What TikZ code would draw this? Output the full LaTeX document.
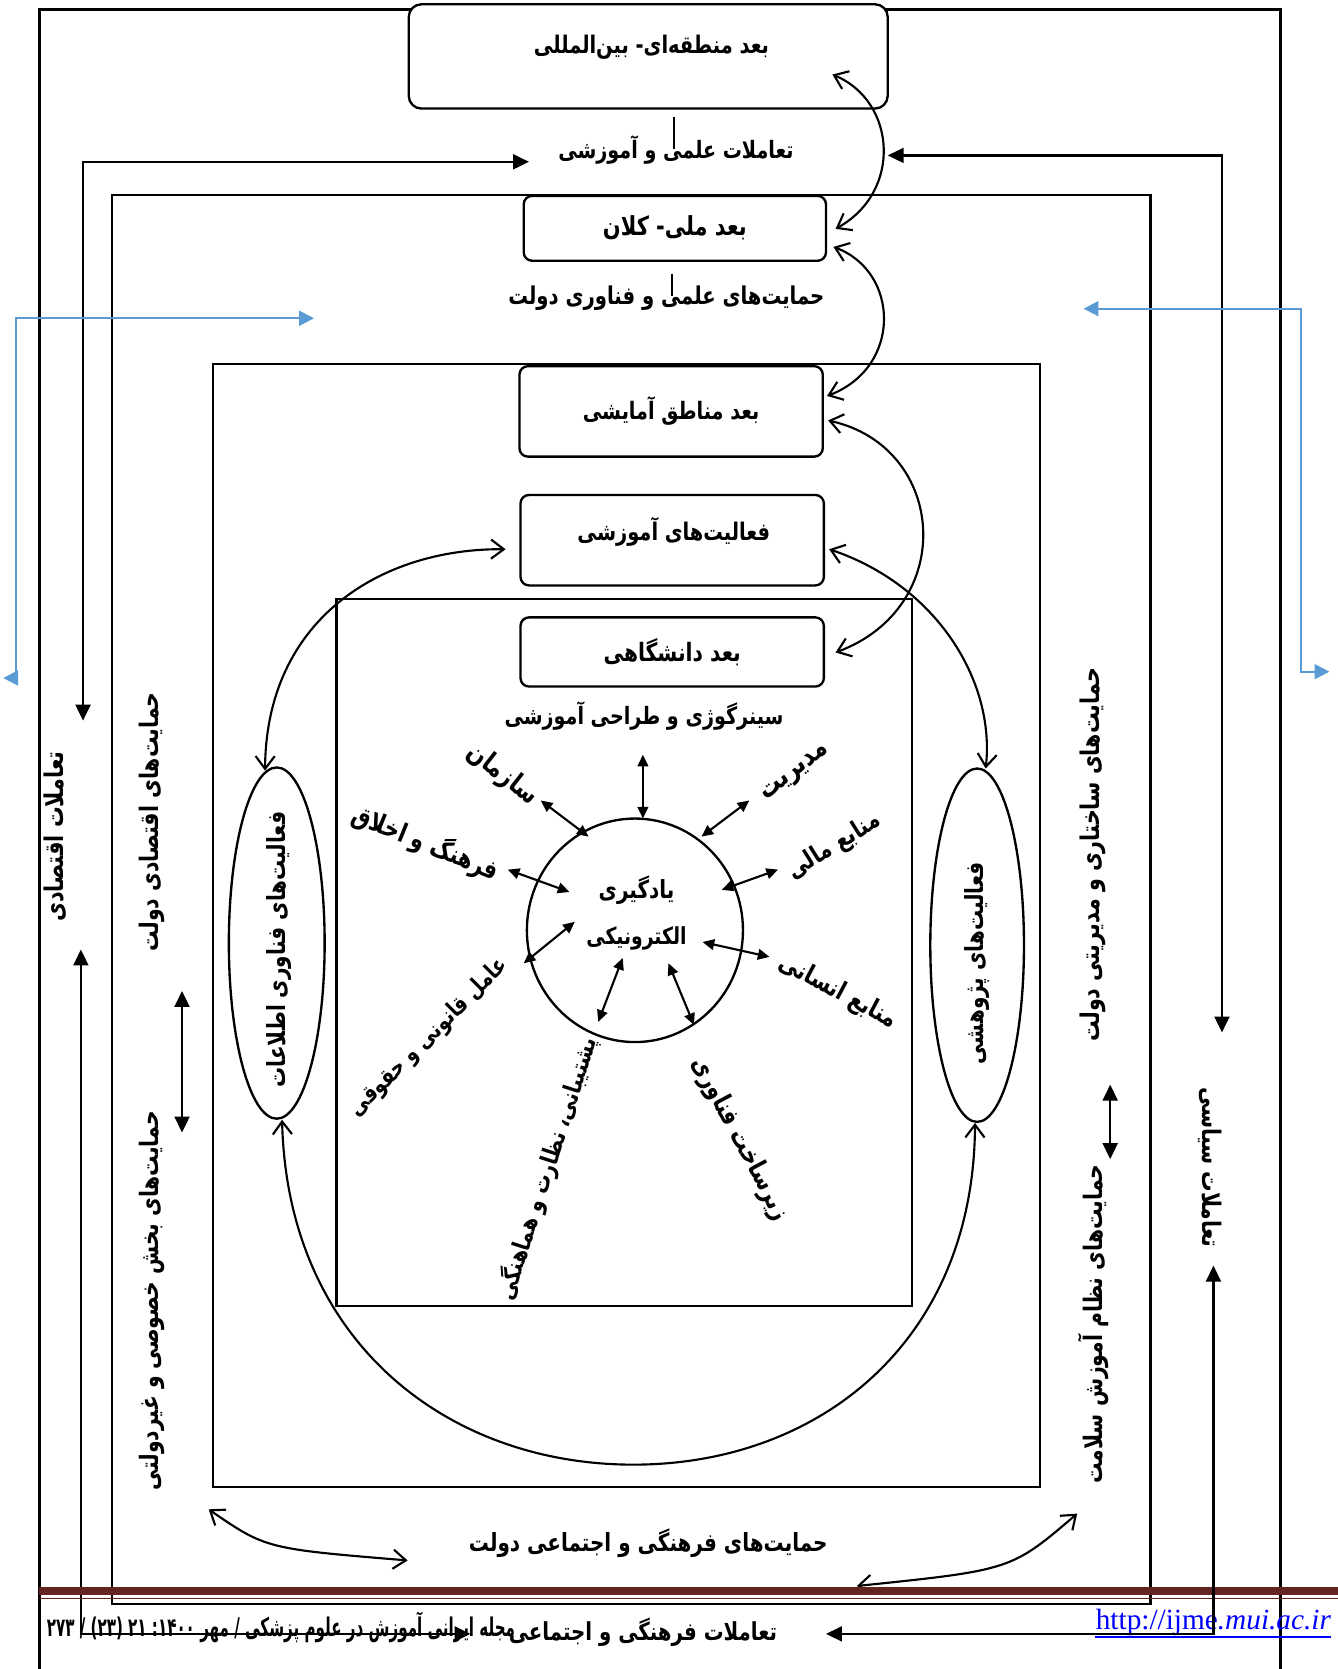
\documentclass[tikz,border=0pt]{standalone}
\usepackage{fontspec}
\usepackage{graphicx}
\usetikzlibrary{arrows.meta,shapes.geometric}
\TeXXeTstate=1
\newfontfamily\arfont[Script=Arabic]{DejaVu Sans}
\newfontfamily\urlfont{Liberation Serif}
\definecolor{footred}{RGB}{100,36,34}
\definecolor{flowblue}{RGB}{91,155,213}
\definecolor{urlblue}{RGB}{0,0,255}
\newdimen\unitpx \unitpx=0.5pt
% Persian label scaled to a given length (in picture units), set a little taller
\newcommand\fa[2]{\scalebox{1}[1.25]{\resizebox{#1\unitpx}{!}{\arfont\bfseries #2}}}
\newcommand\zw{^^^^200c}
\begin{document}
\begin{tikzpicture}[x=0.5pt,y=-0.5pt,
  frame/.style={line width=1.1pt},
  rbox/.style={draw,line width=1.1pt,rounded corners=4pt,fill=white,inner sep=0pt},
  oval/.style={draw,ellipse,line width=1.1pt,inner sep=0pt},
  lbl/.style={inner sep=0pt},
  elbow/.style={line width=1.1pt,{Triangle[length=7.5pt,width=7pt]}-{Triangle[length=7.5pt,width=7pt]}},
  ray/.style={line width=1pt,{Triangle[length=5.5pt,width=5pt]}-{Triangle[length=5.5pt,width=5pt]}},
  link/.style={line width=1pt,{Straight Barb[length=6pt,width=9pt]}-{Straight Barb[length=6pt,width=9pt]}},
  flow/.style={draw=flowblue,line width=1pt,{Triangle[length=7pt,width=7pt]}-{Triangle[length=7pt,width=7pt]}},
]
\useasboundingbox (0,0) rectangle (1257,1568);

% nested frames
\draw[frame] (37,1568) -- (37,9) -- (1203,9) -- (1203,1568);
\draw[frame] (105,183) rectangle (1081,1507);
\draw[frame] (200,342) rectangle (977,1397);
\draw[frame] (316,563) rectangle (857,1227);

% dimension boxes
\node[rbox,rounded corners=6pt,minimum width=225pt,minimum height=49pt] (intl) at (609,53) {};
\node[lbl] (intlT) at (612,44) {\fa{221}{\beginR بعد منطقه\zw ای- بین\zw المللی\endR}};
\node[rbox,minimum width=142pt,minimum height=30.5pt] (natl) at (634,214.5) {\fa{135}{\beginR بعد ملی- کلان\endR}};
\node[rbox,minimum width=142.5pt,minimum height=42.5pt] (regn) at (630.5,386.5) {\fa{166}{\beginR بعد مناطق آمایشی\endR}};
\node[rbox,minimum width=142.5pt,minimum height=42.5pt] (edu) at (631.5,507.5) {};
\node[lbl] (eduT) at (633,500) {\fa{181}{\beginR فعالیت\zw های آموزشی\endR}};
\node[rbox,minimum width=142.5pt,minimum height=32.5pt] (univ) at (631.5,612.5) {\fa{129}{\beginR بعد دانشگاهی\endR}};

% central circle and side ovals
\node[oval,minimum width=101.5pt,minimum height=105pt] (elearn) at (596.5,874) {};
\node[lbl] (elearnA) at (598,836) {\fa{71}{\beginR یادگیری\endR}};
\node[lbl] (elearnB) at (598,882) {\fa{94}{\beginR الکترونیکی\endR}};
\node[oval,minimum width=45pt,minimum height=165pt] (itov) at (260,886) {};
\node[lbl,rotate=90] (itovT) at (262,892) {\fa{259}{\beginR فعالیت\zw های فناوری اطلاعات\endR}};
\node[oval,minimum width=44pt,minimum height=166pt] (resov) at (918,888) {};
\node[lbl,rotate=90] (resovT) at (918,905) {\fa{190}{\beginR فعالیت\zw های پژوهشی\endR}};

% horizontal labels
\node[lbl] (sciT) at (635,141) {\fa{221}{\beginR تعاملات علمی و آموزشی\endR}};
\node[lbl] (techT) at (626,280) {\fa{297}{\beginR حمایت\zw های علمی و فناوری دولت\endR}};
\node[lbl] (synT) at (605,673) {\fa{262}{\beginR سینرگوژی و طراحی آموزشی\endR}};
\node[lbl] (cultT) at (609,1450) {\fa{337}{\beginR حمایت\zw های فرهنگی و اجتماعی دولت\endR}};
\node[lbl] (socT) at (604,1533) {\fa{252}{\beginR تعاملات فرهنگی و اجتماعی\endR}};

% vertical labels
\node[lbl,rotate=90] (econI) at (52,786) {\fa{160}{\beginR تعاملات اقتصادی\endR}};
\node[lbl,rotate=90] (econS) at (143,772) {\fa{243}{\beginR حمایت\zw های اقتصادی دولت\endR}};
\node[lbl,rotate=90] (privS) at (143,1222) {\fa{356}{\beginR حمایت\zw های بخش خصوصی و غیردولتی\endR}};
\node[lbl,rotate=90] (mgmtS) at (1027,803) {\fa{351}{\beginR حمایت\zw های ساختاری و مدیریتی دولت\endR}};
\node[lbl,rotate=90] (hlthS) at (1027,1244) {\fa{300}{\beginR حمایت\zw های نظام آموزش سلامت\endR}};
\node[lbl,rotate=-90] (polI) at (1137,1097) {\fa{150}{\beginR تعاملات سیاسی\endR}};

% factors around e-learning
\node[lbl,rotate=-38] (orgT) at (472,728) {\fa{77}{\beginR سازمان\endR}};
\node[lbl,rotate=38] (manT) at (748,727) {\fa{75}{\beginR مدیریت\endR}};
\node[lbl,rotate=-22] (ethT) at (400,792) {\fa{146}{\beginR فرهنگ و اخلاق\endR}};
\node[lbl,rotate=32] (finT) at (784,795) {\fa{98}{\beginR منابع مالی\endR}};
\node[lbl,rotate=-28] (humT) at (787,932) {\fa{122}{\beginR منابع انسانی\endR}};
\node[lbl,rotate=45] (lawT) at (403,975) {\fa{200}{\beginR عامل قانونی و حقوقی\endR}};
\node[lbl,rotate=72] (supT) at (514,1098) {\fa{258}{\beginR پشتیبانی، نظارت و هماهنگی\endR}};
\node[lbl,rotate=-62] (infT) at (695,1070) {\fa{170}{\beginR زیرساخت فناوری\endR}};

% stray ticks
\draw[line width=1pt] (633,110) -- (633,140);
\draw[line width=1pt] (631,257) -- (631,278);

% curved links between levels
\coordinate (a1) at (782,70);  \coordinate (a2) at (785,215);
\coordinate (b1) at (783,232); \coordinate (b2) at (777,372);
\coordinate (c1) at (778,395); \coordinate (c2) at (785,613);
\coordinate (d1) at (779,516); \coordinate (d2) at (926,722);
\coordinate (e1) at (475,516); \coordinate (e2) at (249,724);
\coordinate (f1) at (265,1052); \coordinate (f2) at (916,1055);
\draw[link] (a1) .. controls (842,95) and (848,180) .. (a2);
\draw[link] (b1) .. controls (845,255) and (848,345) .. (b2);
\draw[link] (c1) .. controls (890,420) and (900,570) .. (c2);
\draw[link] (d1) .. controls (880,550) and (935,640) .. (d2);
\draw[link] (e1) .. controls (360,515) and (250,580) .. (e2);
\draw[link] (f1) .. controls (270,1260) and (420,1376) .. (595,1376)
                 .. controls (770,1376) and (915,1260) .. (f2);
\coordinate (g1) at (196,1418); \coordinate (g2) at (383,1466);
\coordinate (h1) at (1012,1422); \coordinate (h2) at (805,1490);
\draw[link] (g1) .. controls (250,1455) .. (g2);
\draw[link] (h1) .. controls (950,1475) .. (h2);

% radial arrows
\coordinate (r1o) at (604,709); \coordinate (r1i) at (604,769);
\coordinate (r2o) at (508,752); \coordinate (r2i) at (553,786);
\coordinate (r3o) at (704,752); \coordinate (r3i) at (659,786);
\coordinate (r4o) at (477,817); \coordinate (r4i) at (535,838);
\coordinate (r5o) at (731,817); \coordinate (r5i) at (678,836);
\coordinate (r6o) at (492,905); \coordinate (r6i) at (540,866);
\coordinate (r7o) at (723,899); \coordinate (r7i) at (660,885);
\coordinate (r8o) at (562,960); \coordinate (r8i) at (585,900);
\coordinate (r9o) at (652,963); \coordinate (r9i) at (628,905);
\foreach \k in {1,...,9}{\draw[ray] (r\k o) -- (r\k i);}

% vertical double arrows between side labels
\coordinate (vl1) at (171,931); \coordinate (vl2) at (171,1064);
\coordinate (vr1) at (1043,1019); \coordinate (vr2) at (1043,1089);
\draw[elbow] (vl1) -- (vl2);
\draw[elbow] (vr1) -- (vr2);

% interaction elbows
\coordinate (tlA) at (497,152); \coordinate (tlB) at (78,677);
\coordinate (trA) at (834,146); \coordinate (trB) at (1148,970);
\coordinate (brA) at (776,1535); \coordinate (brB) at (1140,1189);
\coordinate (blA) at (442,1535); \coordinate (blB) at (76,892);
\draw[elbow] (tlA) -- (78,152) -- (tlB);
\draw[elbow] (trA) -- (1148,146) -- (trB);
\draw[elbow] (blA) -- (76,1535) -- (blB);

% blue elbows
\coordinate (blu1) at (1018,290); \coordinate (blu2) at (1249,631);
\coordinate (blu3) at (295,299);  \coordinate (blu4) at (3,637);
\draw[flow] (blu1) -- (1222,290) -- (1222,631) -- (blu2);
\draw[flow] (blu3) -- (15,299) -- (15,637) -- (blu4);

% journal footer
\fill[footred] (37,1491) rectangle (1257,1498.5);
\fill[footred] (37,1501) rectangle (1257,1502.5);
\node[lbl] (jrnl) at (264,1529) {\scalebox{1}[1.7]{\resizebox{220pt}{!}{\arfont\bfseries\beginR مجله ایرانی آموزش در علوم پزشکی / مهر \beginL\mbox{۲۷۳}\ \mbox{/}\ \mbox{(۲۳)}\ \mbox{۲۱}\ \mbox{:}\mbox{۱۴۰۰}\endL\endR}}};
\node[lbl,text=urlblue] (url) at (1140,1524) {\resizebox{110.5pt}{!}{\urlfont http://ijme\textit{.mui.ac.ir}}};
\draw[urlblue,line width=0.6pt] (1029,1538) -- (1250,1538);
\draw[elbow] (brA) -- (1140,1535) -- (brB);
\end{tikzpicture}
\end{document}
